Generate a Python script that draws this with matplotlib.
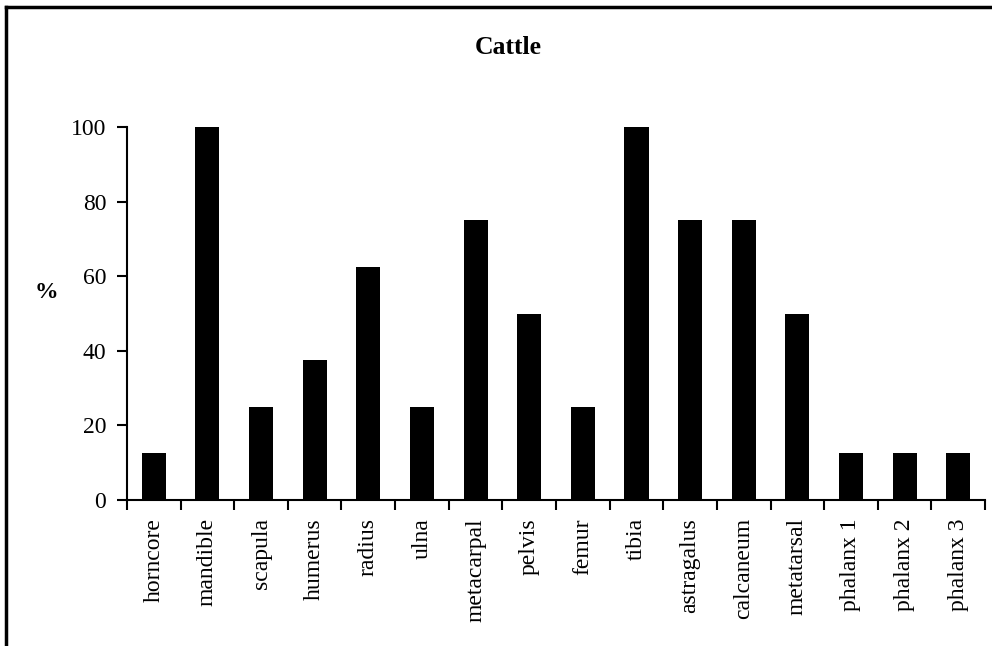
import matplotlib.pyplot as plt
from matplotlib.lines import Line2D

plt.rcParams['font.family'] = ['Liberation Serif', 'DejaVu Serif']

elements = ["horncore", "mandible", "scapula", "humerus", "radius", "ulna",
            "metacarpal", "pelvis", "femur", "tibia", "astragalus", "calcaneum",
            "metatarsal", "phalanx 1", "phalanx 2", "phalanx 3"]
percent = [12.5, 100, 25, 37.5, 62.5, 25, 75, 50, 25, 100, 75, 75, 50,
           12.5, 12.5, 12.5]
yticks = [0, 20, 40, 60, 80, 100]

fig = plt.figure(figsize=(9.92, 6.46), dpi=100)
ax = fig.add_axes([0.128, 0.226, 0.865, 0.577])

x = range(len(elements))
ax.bar(x, percent, width=0.45, color="black")

ax.set_xlim(-0.5, len(elements) - 0.5)
ax.set_ylim(0, 100)
ax.set_yticks(yticks)
ax.set_yticklabels([str(v) for v in yticks], fontsize=17)

# category labels sit between the boundary ticks
ax.set_xticks([i - 0.5 for i in range(len(elements) + 1)])
ax.set_xticklabels([])
ax.set_xticks(list(x), minor=True)
ax.set_xticklabels(elements, minor=True, rotation=90, fontsize=17)
ax.tick_params(axis="x", which="minor", length=0, pad=13)
ax.tick_params(axis="x", which="major", direction="out", length=7, width=1.5)
ax.tick_params(axis="y", direction="out", length=7, width=1.5, pad=8)

for side in ["top", "right"]:
    ax.spines[side].set_visible(False)
for side in ["left", "bottom"]:
    ax.spines[side].set_linewidth(1.5)

fig.text(46 / 992, 1 - 293 / 646, "%", fontsize=17, fontweight="bold",
         ha="center", va="center")
fig.text(0.512, 0.927, "Cattle", fontsize=18.5, fontweight="bold",
         ha="center", va="center")

# chart area frame (left and top edges)
fig.add_artist(Line2D([0.006, 0.006], [0, 0.989], color="black", lw=2.5,
                      transform=fig.transFigure))
fig.add_artist(Line2D([0.006, 1.0], [0.989, 0.989], color="black", lw=2.5,
                      transform=fig.transFigure))

fig.savefig("out.png", dpi=100)
